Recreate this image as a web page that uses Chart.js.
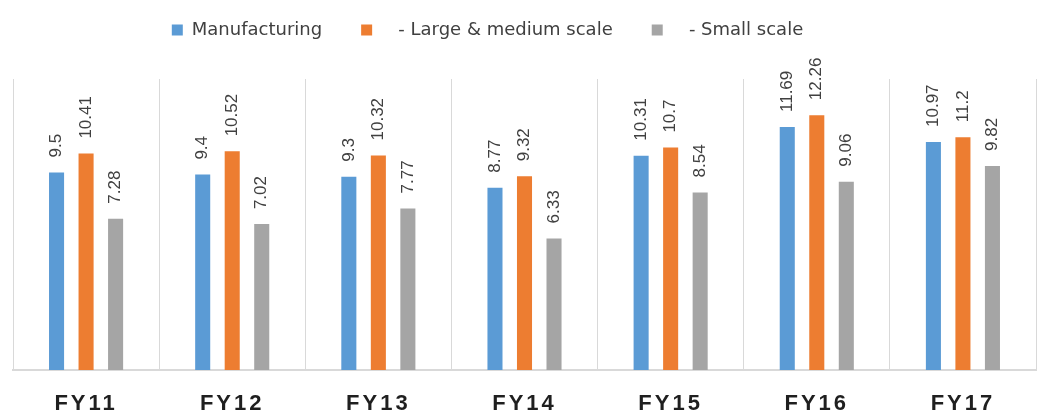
<!DOCTYPE html>
<html>
<head>
<meta charset="utf-8">
<script src="https://cdn.jsdelivr.net/npm/chart.js@4.4.0/dist/chart.umd.min.js"></script>
<style>
    html, body { margin: 0; padding: 0; background: #fff; }
    #contenedor { width: 1047px; height: 416px; }
</style>
</head>
<body>
<div id="contenedor"><canvas id="miGrafica"></canvas></div>
<script>
// datos de la grafica
const anios = ["FY11", "FY12", "FY13", "FY14", "FY15", "FY16", "FY17"];
const manufactura = [9.5, 9.4, 9.3, 8.77, 10.31, 11.69, 10.97];
const grandeMediana = [10.41, 10.52, 10.32, 9.32, 10.7, 12.26, 11.2];
const pequena = [7.28, 7.02, 7.77, 6.33, 8.54, 9.06, 9.82];
const nombres = ["Manufacturing", "   - Large & medium scale", "   - Small scale"];
const colores = ["#5B9BD5", "#ED7D31", "#A5A5A5"];

// valores girados encima de cada barra
const etiquetas = {
    id: "etiquetas",
    afterDatasetsDraw(chart) {
        const ctx = chart.ctx;
        chart.data.datasets.forEach((ds, i) => {
            chart.getDatasetMeta(i).data.forEach((barra, j) => {
                ctx.save();
                ctx.translate(barra.x, barra.y - 15);
                ctx.rotate(-Math.PI / 2);
                ctx.font = "17px 'Liberation Sans'";
                ctx.fillStyle = "#404040";
                ctx.textAlign = "left";
                ctx.textBaseline = "middle";
                ctx.fillText(String(ds.data[j]), 0, 0);
                ctx.restore();
            });
        });
    }
};

// nombres de los años abajo, en negrita y espaciados
const ejeAnios = {
    id: "ejeAnios",
    afterDraw(chart) {
        const ctx = chart.ctx;
        const x = chart.scales.x;
        ctx.save();
        ctx.font = "bold 22px 'Liberation Sans'";
        ctx.letterSpacing = "3px";
        ctx.fillStyle = "#1f1f1f";
        ctx.textAlign = "center";
        ctx.textBaseline = "middle";
        anios.forEach((a, i) => {
            ctx.fillText(a, x.getPixelForValue(i), chart.chartArea.bottom + 34);
        });
        ctx.restore();
    }
};

// la leyenda va mas arriba y algo a la izquierda, sin mover el area de la grafica
const moverLeyenda = {
    id: "moverLeyenda",
    afterLayout(chart) {
        const lg = chart.legend;
        lg.top -= 30;
        lg.bottom -= 30;
        lg.left -= 74;
    }
};

let micanvas = document.getElementById("miGrafica").getContext("2d");
let chart = new Chart(micanvas, {
    type: "bar",
    data: {
        labels: anios,
        datasets: [
            { label: nombres[0], data: manufactura, backgroundColor: colores[0] },
            { label: nombres[1], data: grandeMediana, backgroundColor: colores[1] },
            { label: nombres[2], data: pequena, backgroundColor: colores[2] }
        ]
    },
    options: {
        responsive: true,
        maintainAspectRatio: false,
        animation: false,
        layout: { padding: { left: 13, right: 11, top: 12, bottom: 46 } },
        datasets: {
            bar: { categoryPercentage: 0.606, barPercentage: 0.51 }
        },
        scales: {
            x: {
                grid: { color: "#d9d9d9", drawTicks: false, offset: true },
                border: { color: "#d9d9d9", width: 2 },
                ticks: { display: false }
            },
            y: { display: false, min: 0, max: 14 }
        },
        plugins: {
            tooltip: { enabled: false },
            legend: {
                position: "top",
                labels: {
                    boxWidth: 11,
                    boxHeight: 11,
                    padding: 39,
                    color: "#404040",
                    font: { family: "'DejaVu Sans'", size: 18 }
                }
            }
        }
    },
    plugins: [etiquetas, ejeAnios, moverLeyenda]
});
</script>
</body>
</html>
